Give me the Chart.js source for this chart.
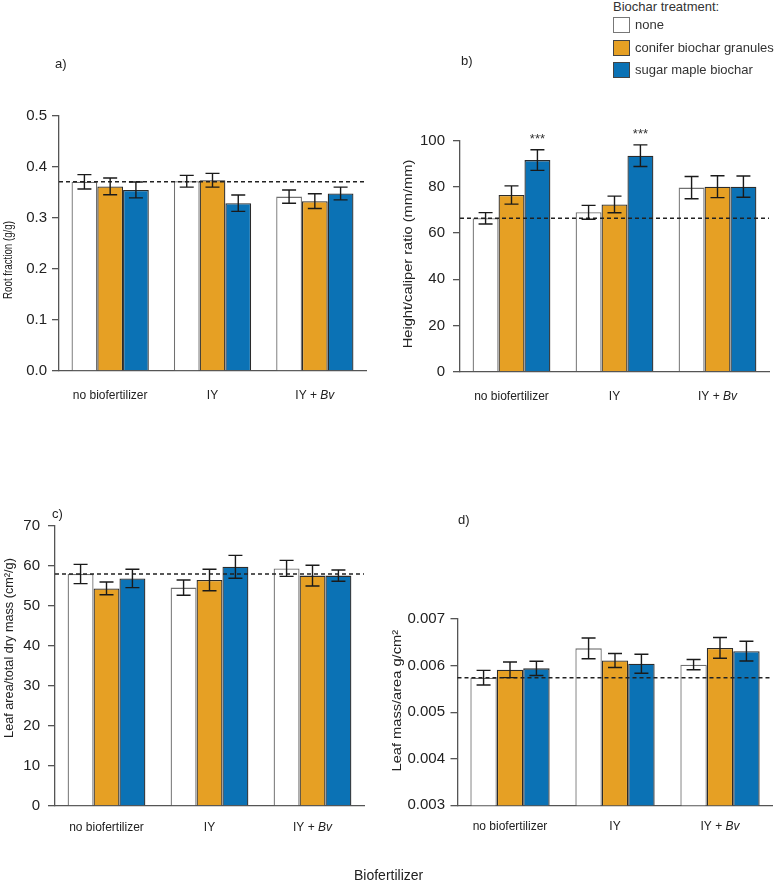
<!DOCTYPE html>
<html><head><meta charset="utf-8">
<script src="https://cdn.jsdelivr.net/npm/chart.js@4.4.1/dist/chart.umd.min.js"></script>
<style>
html,body{margin:0;padding:0;background:#fff;width:776px;height:882px;overflow:hidden;position:relative;font-family:"Liberation Sans",Arial,sans-serif;color:#222}
canvas{position:absolute}
.t{position:absolute;white-space:nowrap;line-height:1}
.box{position:absolute;width:15px;height:14px;box-sizing:content-box}
</style></head><body>
<canvas id="ca" style="left:0;top:40px" width="388" height="400"></canvas>
<canvas id="cb" style="left:388px;top:40px" width="388" height="400"></canvas>
<canvas id="cc" style="left:0;top:470px" width="388" height="400"></canvas>
<canvas id="cd" style="left:388px;top:470px" width="388" height="400"></canvas>

<div class="t" style="left:55px;top:57px;font-size:13px">a)</div>
<div class="t" style="left:461px;top:54px;font-size:13px">b)</div>
<div class="t" style="left:52px;top:507px;font-size:13px">c)</div>
<div class="t" style="left:458px;top:513px;font-size:13px">d)</div>

<div id="legend"></div>
<div class="t" style="left:354px;top:868px;font-size:14px">Biofertilizer</div>

<script>
// ---------- shared ----------
const categories = ['no biofertilizer', 'IY', 'IY + Bv'];
const italicTerms = ['Bv'];
const seriesNames = ['none', 'conifer biochar granules', 'sugar maple biochar'];
const seriesFill = ['#ffffff', '#e6a024', '#0b72b5'];
const seriesBorder = ['#707070', '#2b2b2b', '#2b2b2b'];
const legendTitle = 'Biochar treatment:';

// ---------- a) root fraction ----------
const rootNone = [0.371, 0.372, 0.342];
const rootConifer = [0.362, 0.374, 0.333];
const rootMaple = [0.355, 0.329, 0.348];
const rootNoneSE = [0.014, 0.0115, 0.013];
const rootConiferSE = [0.0165, 0.0135, 0.0145];
const rootMapleSE = [0.0155, 0.016, 0.0125];
const rootRef = 0.371;
const rootTicks = [0, 0.1, 0.2, 0.3, 0.4, 0.5];

// ---------- b) height / caliper ----------
const hcNone = [66.4, 69.0, 79.7];
const hcConifer = [76.5, 72.4, 80.1];
const hcMaple = [91.6, 93.5, 80.1];
const hcNoneSE = [2.45, 3.0, 4.8];
const hcConiferSE = [3.95, 3.6, 4.75];
const hcMapleSE = [4.45, 4.7, 4.6];
const hcRef = 66.4;
const hcTicks = [0, 20, 40, 60, 80, 100];
const hcMapleSig = ['***', '***', ''];

// ---------- c) leaf area / total dry mass ----------
const laNone = [58.0, 54.6, 59.4];
const laConifer = [54.4, 56.5, 57.6];
const laMaple = [56.9, 59.8, 57.6];
const laNoneSE = [2.4, 1.9, 2.0];
const laConiferSE = [1.6, 2.7, 2.6];
const laMapleSE = [2.3, 2.85, 1.4];
const laRef = 58.0;
const laTicks = [0, 10, 20, 30, 40, 50, 60, 70];

// ---------- d) leaf mass / area ----------
const lmNone = [0.00574, 0.00637, 0.00602];
const lmConifer = [0.00591, 0.00611, 0.00638];
const lmMaple = [0.00594, 0.00604, 0.00631];
const lmNoneSE = [0.000158, 0.000222, 0.000111];
const lmConiferSE = [0.000168, 0.00015, 0.000222];
const lmMapleSE = [0.000154, 0.000204, 0.000211];
const lmRef = 0.00574;
const lmTicks = [0.003, 0.004, 0.005, 0.006, 0.007];

const axisColor = '#555';
const textColor = '#222';

// legend (HTML)
(function(){
  const lg = document.getElementById('legend');
  let h = '<div class="t" style="left:613px;top:0px;font-size:13px;color:#333">' + legendTitle + '</div>';
  const tops = [17, 39.5, 62];
  seriesNames.forEach((n, i) => {
    h += '<div class="box" style="left:613px;top:' + tops[i] + 'px;background:' + seriesFill[i] + ';border:1px solid ' + (i === 0 ? '#777' : '#444') + '"></div>';
    h += '<div class="t" style="left:635px;top:' + (tops[i] + 1) + 'px;font-size:13px;color:#333">' + n + '</div>';
  });
  lg.innerHTML = h;
})();

const overlayPlugin = {
  id: 'overlay',
  afterDraw(chart) {
    const cfg = chart.options.plugins.overlay;
    const ctx = chart.ctx;
    const xs = chart.scales.x, ys = chart.scales.y;
    const ca = chart.chartArea;
    ctx.save();
    // reference dashed line
    const ry = ys.getPixelForValue(cfg.ref);
    ctx.strokeStyle = '#222';
    ctx.lineWidth = 1.5;
    ctx.setLineDash([4, 3]);
    ctx.beginPath(); ctx.moveTo(ca.left, ry); ctx.lineTo(ca.right, ry); ctx.stroke();
    ctx.setLineDash([]);
    // error bars
    ctx.strokeStyle = '#1a1a1a';
    ctx.lineWidth = 1.4;
    chart.data.datasets.forEach((ds, di) => {
      const meta = chart.getDatasetMeta(di);
      meta.data.forEach((el, j) => {
        const v = ds.data[j], e = ds.errs[j];
        const yt = ys.getPixelForValue(v + e), yb = ys.getPixelForValue(v - e);
        const x = el.x;
        ctx.beginPath();
        ctx.moveTo(x, yt); ctx.lineTo(x, yb);
        ctx.moveTo(x - 7, yt); ctx.lineTo(x + 7, yt);
        ctx.moveTo(x - 7, yb); ctx.lineTo(x + 7, yb);
        ctx.stroke();
        if (ds.sig && ds.sig[j]) {
          ctx.fillStyle = '#333';
          ctx.font = '13px "Liberation Sans", Arial, sans-serif';
          ctx.textAlign = 'center'; ctx.textBaseline = 'middle';
          ctx.fillText(ds.sig[j], x, yt - 10);
        }
      });
    });
    // category labels (with italic terms)
    ctx.fillStyle = textColor;
    ctx.textBaseline = 'middle';
    ctx.textAlign = 'left';
    const normal = '12px "Liberation Sans", Arial, sans-serif';
    const ital = 'italic 12px "Liberation Sans", Arial, sans-serif';
    const re = new RegExp('(' + italicTerms.join('|') + ')');
    categories.forEach((c, i) => {
      const parts = c.split(re).filter(p => p.length);
      let w = 0;
      parts.forEach(p => { ctx.font = italicTerms.includes(p) ? ital : normal; w += ctx.measureText(p).width; });
      let x = xs.getPixelForValue(i) - w / 2;
      const y = ca.bottom + cfg.labelOffset;
      parts.forEach(p => { ctx.font = italicTerms.includes(p) ? ital : normal; ctx.fillText(p, x, y); x += ctx.measureText(p).width; });
    });
    // y title
    const t = cfg.yTitle;
    ctx.translate(t.x, t.y);
    ctx.rotate(-Math.PI / 2);
    ctx.scale(t.stretch, 1);
    ctx.font = t.size + 'px "Liberation Sans", Arial, sans-serif';
    ctx.textAlign = 'center'; ctx.textBaseline = 'middle';
    ctx.fillStyle = textColor;
    ctx.fillText(t.text, 0, 0);
    ctx.restore();
  }
};

function panel(id, p) {
  return new Chart(document.getElementById(id), {
    type: 'bar',
    data: {
      labels: categories,
      datasets: p.values.map((vals, s) => ({
        label: seriesNames[s],
        data: vals,
        backgroundColor: seriesFill[s],
        borderColor: seriesBorder[s],
        borderWidth: 1.3,
        borderSkipped: 'bottom',
        categoryPercentage: 0.755,
        barPercentage: 1,
        errs: p.errs[s],
        sig: p.sig ? p.sig[s] : null
      }))
    },
    options: {
      responsive: false,
      animation: false,
      layout: { padding: { left: 0, top: p.top, right: p.right, bottom: 0 } },
      plugins: {
        legend: { display: false },
        tooltip: { enabled: false },
        overlay: { ref: p.ref, labelOffset: p.labelOffset, yTitle: p.yTitle }
      },
      scales: {
        x: {
          type: 'category', offset: true,
          afterFit: s => { s.height = p.xh; },
          ticks: { display: false },
          grid: { display: false, drawTicks: false, offset: true },
          border: { display: true, color: axisColor, width: 1.3 }
        },
        y: {
          type: 'linear', min: p.ticks[0], max: p.ticks[p.ticks.length - 1],
          afterBuildTicks: s => { s.ticks = p.ticks.map(v => ({ value: v })); },
          afterFit: s => { s.width = p.yw; },
          ticks: {
            callback: v => Number(v).toFixed(p.dec),
            padding: p.tpad, color: textColor,
            font: { size: 15, family: p.tickFont }
          },
          grid: { drawOnChartArea: false, drawTicks: true, tickLength: 7, color: axisColor, lineWidth: 1.3 },
          border: { display: true, color: axisColor, width: 1.3 }
        }
      }
    },
    plugins: [overlayPlugin]
  });
}

const regular = '"Liberation Sans", Arial, sans-serif';
const narrow = '"Liberation Sans Narrow", "Arial Narrow", "Liberation Sans", sans-serif';

panel('ca', {
  values: [rootNone, rootConifer, rootMaple], errs: [rootNoneSE, rootConiferSE, rootMapleSE],
  ref: rootRef, ticks: rootTicks, dec: 1,
  top: 76, right: 22, yw: 59, xh: 69, tpad: 5, tickFont: regular,
  labelOffset: 25,
  yTitle: { text: 'Root fraction (g/g)', x: 8.5, y: 220, size: 13.5, stretch: 0.72 }
});
panel('cb', {
  values: [hcNone, hcConifer, hcMaple], errs: [hcNoneSE, hcConiferSE, hcMapleSE],
  sig: [null, null, hcMapleSig],
  ref: hcRef, ticks: hcTicks, dec: 0,
  top: 100.7, right: 7, yw: 72, xh: 68.3, tpad: 8, tickFont: narrow,
  labelOffset: 24.5,
  yTitle: { text: 'Height/caliper ratio (mm/mm)', x: 21, y: 214, size: 12.5, stretch: 1.17 }
});
panel('cc', {
  values: [laNone, laConifer, laMaple], errs: [laNoneSE, laConiferSE, laMapleSE],
  ref: laRef, ticks: laTicks, dec: 0,
  top: 56, right: 24, yw: 55, xh: 64, tpad: 8, tickFont: regular,
  labelOffset: 22,
  yTitle: { text: 'Leaf area/total dry mass (cm\u00b2/g)', x: 9, y: 178, size: 12.7, stretch: 1.0 }
});
panel('cd', {
  values: [lmNone, lmConifer, lmMaple], errs: [lmNoneSE, lmConiferSE, lmMapleSE],
  ref: lmRef, ticks: lmTicks, dec: 3,
  top: 149, right: 3.5, yw: 69.5, xh: 64.7, tpad: 5.5, tickFont: narrow,
  labelOffset: 21.5,
  yTitle: { text: 'Leaf mass/area g/cm\u00b2', x: 9.5, y: 230.7, size: 12.5, stretch: 1.17 }
});
</script>
</body></html>
